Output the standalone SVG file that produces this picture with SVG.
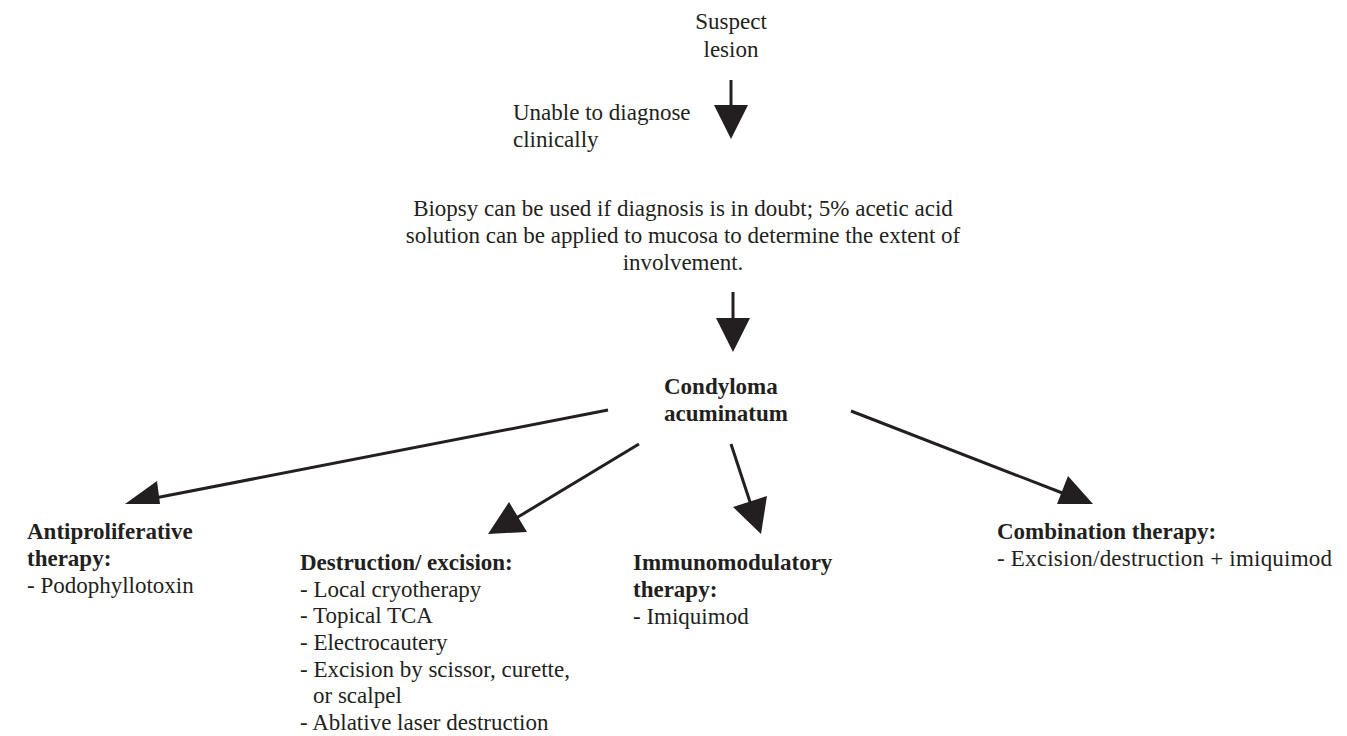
<svg xmlns="http://www.w3.org/2000/svg" width="1347" height="736" viewBox="0 0 1347 736">
<style>
text{font-family:'Liberation Serif',serif;font-size:23px;fill:#231f20}
.b{font-weight:bold}
.c{text-anchor:middle}
.ln{stroke:#231f20;stroke-width:3;fill:none}
.hd{fill:#231f20;stroke:none}
</style>
<rect width="1347" height="736" fill="#fff"/>
<g id="connectors">
<line class="ln" x1="731" y1="80" x2="731" y2="108"/>
<polygon class="hd" points="714,105 748,105 731,139"/>
<line class="ln" x1="733" y1="292" x2="733" y2="320"/>
<polygon class="hd" points="716,318 750,318 733,352"/>
<line class="ln" x1="608" y1="410" x2="155" y2="498"/>
<polygon class="hd" points="125,504 157,481 160,504"/>
<line class="ln" x1="639" y1="444" x2="513" y2="520"/>
<polygon class="hd" points="488,534 509,502 527,532"/>
<line class="ln" x1="731" y1="444" x2="751" y2="505"/>
<polygon class="hd" points="733,507 767,496 761,534"/>
<line class="ln" x1="851" y1="411" x2="1065" y2="494"/>
<polygon class="hd" points="1057,504 1068,476 1093,504"/>
</g>
<g id="suspect">
<text class="c" x="731" y="29">Suspect</text>
<text class="c" x="731" y="57">lesion</text>
</g>
<g id="unable">
<text x="513" y="120">Unable to diagnose</text>
<text x="513" y="147">clinically</text>
</g>
<g id="biopsy">
<text class="c" x="683" y="216">Biopsy can be used if diagnosis is in doubt; 5% acetic acid</text>
<text class="c" x="683" y="243">solution can be applied to mucosa to determine the extent of</text>
<text class="c" x="683" y="270">involvement.</text>
</g>
<g id="condyloma">
<text class="b" x="664" y="394">Condyloma</text>
<text class="b" x="664" y="421">acuminatum</text>
</g>
<g id="antiproliferative">
<text class="b" x="27" y="539">Antiproliferative</text>
<text class="b" x="27" y="566">therapy:</text>
<text x="27" y="593">- Podophyllotoxin</text>
</g>
<g id="destruction">
<text class="b" x="300" y="570">Destruction/ excision:</text>
<text x="300" y="597">- Local cryotherapy</text>
<text x="300" y="623">- Topical TCA</text>
<text x="300" y="650">- Electrocautery</text>
<text x="300" y="677">- Excision by scissor, curette,</text>
<text x="313" y="703">or scalpel</text>
<text x="300" y="730">- Ablative laser destruction</text>
</g>
<g id="immunomodulatory">
<text class="b" x="633" y="570">Immunomodulatory</text>
<text class="b" x="633" y="597">therapy:</text>
<text x="633" y="624">- Imiquimod</text>
</g>
<g id="combination">
<text class="b" x="997" y="539">Combination therapy:</text>
<text x="997" y="566" textLength="335" lengthAdjust="spacing">- Excision/destruction + imiquimod</text>
</g>
</svg>
